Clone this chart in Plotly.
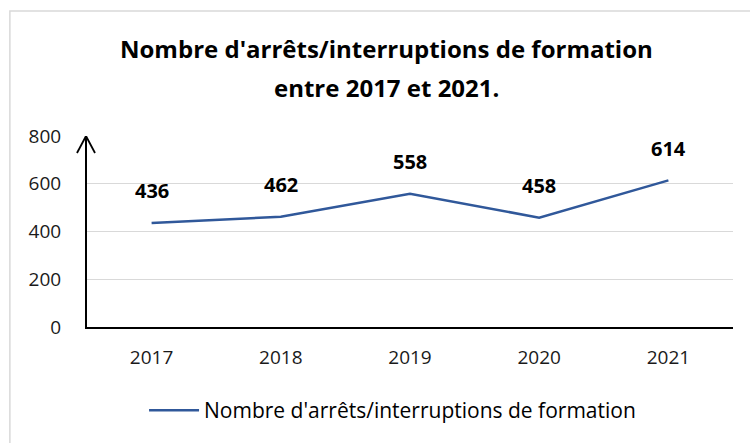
import plotly.graph_objects as go

years = ["2017", "2018", "2019", "2020", "2021"]
values = [436, 462, 558, 458, 614]
series_name = "Nombre d'arrêts/interruptions de formation"
title_lines = ["Nombre d'arrêts/interruptions de formation", "entre 2017 et 2021."]
y_ticks = [0, 200, 400, 600, 800]

FONT = "Open Sans"
LINE_COLOR = "#30589a"

fig = go.Figure()
fig.add_trace(go.Scatter(
    x=list(range(len(years))), y=values, mode="lines", name=series_name,
    line=dict(color=LINE_COLOR, width=2.5),
    showlegend=True,
))

for i, v in enumerate(values):
    fig.add_annotation(
        x=i, y=v, xref="x", yref="y", text=f"<b>{v}</b>", showarrow=False,
        yshift=32, font=dict(family=FONT, size=20, color="#000000"),
    )

# two-line title
for line, ypos in zip(title_lines, [1.4555, 1.2565]):
    fig.add_annotation(
        x=0.464, y=ypos, xref="paper", yref="paper", text=f"<b>{line}</b>",
        showarrow=False, xanchor="center", yanchor="middle",
        font=dict(family=FONT, size=24, color="#000000"),
    )

# arrow head at top of the y axis
for dx in (-9, 9):
    fig.add_shape(
        type="line", xref="paper", yref="y",
        xsizemode="pixel", xanchor=0, x0=-1 + dx, x1=-1,
        ysizemode="pixel", yanchor=800, y0=-17, y1=0,
        line=dict(color="#000000", width=1.8), layer="above",
    )

# chart border (top and left visible)
fig.add_shape(
    type="rect", xref="paper", yref="paper",
    x0=-0.1194, x1=1.2, y0=-1.0, y1=1.654,
    line=dict(color="#d9d9d9", width=1.5), layer="below",
)

fig.update_layout(
    width=750, height=443,
    margin=dict(l=87, r=17, t=136, b=116),
    paper_bgcolor="white", plot_bgcolor="white",
    font=dict(family=FONT, size=19, color="#000000"),
    legend=dict(
        orientation="h", x=0.473, xanchor="center", y=-0.33, yanchor="top",
        font=dict(family=FONT, size=21, color="#000000"),
        itemwidth=50,
    ),
    xaxis=dict(
        range=[-0.5, len(years) - 0.5], autorange=False,
        tickvals=list(range(len(years))), ticktext=years,
        showgrid=False, zeroline=False,
        showline=True, linecolor="#000000", linewidth=2,
        ticks="", ticklabelstandoff=12,
        tickfont=dict(family=FONT, size=19, color="#1a1a1a"),
    ),
    yaxis=dict(
        range=[0, 800], tickvals=y_ticks, showgrid=True,
        gridcolor="#d9d9d9", gridwidth=1, zeroline=False,
        showline=True, linecolor="#000000", linewidth=2,
        ticks="", ticklabelstandoff=20,
        tickfont=dict(family=FONT, size=19, color="#1a1a1a"),
    ),
)

fig.write_html("out.html", config={"displayModeBar": False},
               post_script="document.body.style.margin='0';")
